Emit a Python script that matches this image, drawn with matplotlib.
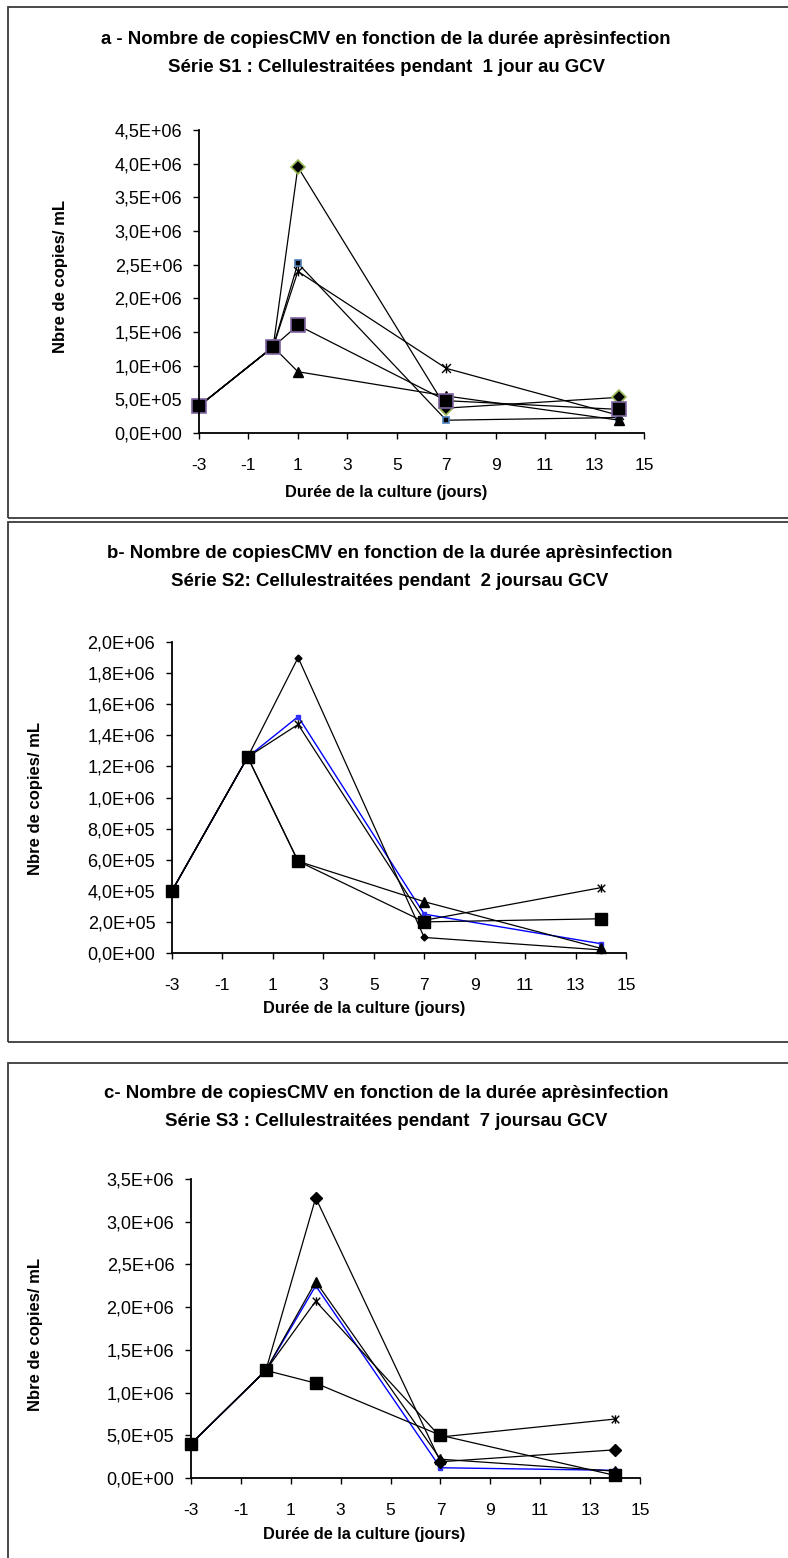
import matplotlib
matplotlib.use("Agg")
import matplotlib.pyplot as plt
from matplotlib.path import Path
from matplotlib.patches import Rectangle
from matplotlib.ticker import FuncFormatter, MultipleLocator

plt.rcParams['font.family'] = ['Liberation Sans', 'DejaVu Sans']
plt.rcParams['axes.unicode_minus'] = False

W, H = 788, 1558

# --- donnees ---
jours_a = [-3, 0, 1, 7, 14]
a_losange = [4.0e5, 1.28e6, 3.95e6, 3.7e5, 5.3e5]
a_bleu = [4.0e5, 1.28e6, 2.52e6, 1.9e5, 2.3e5]
a_etoile = [4.0e5, 1.28e6, 2.40e6, 9.6e5, 2.6e5]
a_triangle = [4.0e5, 1.28e6, 0.91e6, 5.5e5, 1.9e5]
a_carre = [4.0e5, 1.28e6, 1.60e6, 4.8e5, 3.5e5]

jours_bc = [-3, 0, 2, 7, 14]
b_losange = [4.0e5, 1.26e6, 1.90e6, 1.0e5, 2.0e4]
b_bleu = [4.0e5, 1.26e6, 1.52e6, 2.5e5, 6.0e4]
b_etoile = [4.0e5, 1.26e6, 1.47e6, 2.1e5, 4.2e5]
b_triangle = [4.0e5, 1.26e6, 5.9e5, 3.3e5, 3.0e4]
b_carre = [4.0e5, 1.26e6, 5.9e5, 2.0e5, 2.2e5]

c_losange = [4.0e5, 1.26e6, 3.28e6, 1.9e5, 3.3e5]
c_bleu = [4.0e5, 1.26e6, 2.25e6, 1.2e5, 9.0e4]
c_triangle = [4.0e5, 1.26e6, 2.30e6, 2.2e5, 8.0e4]
c_etoile = [4.0e5, 1.26e6, 2.07e6, 4.8e5, 6.9e5]
c_carre = [4.0e5, 1.26e6, 1.11e6, 5.0e5, 3.0e4]

xticks = [-3, -1, 1, 3, 5, 7, 9, 11, 13, 15]

titres = [
    ("a - Nombre de copiesCMV en fonction de la durée aprèsinfection",
     "Série S1 : Cellulestraitées pendant  1 jour au GCV"),
    ("b- Nombre de copiesCMV en fonction de la durée aprèsinfection",
     "Série S2: Cellulestraitées pendant  2 joursau GCV"),
    ("c- Nombre de copiesCMV en fonction de la durée aprèsinfection",
     "Série S3 : Cellulestraitées pendant  7 joursau GCV"),
]
ylabel = "Nbre de copies/ mL"
xlabel = "Durée de la culture (jours)"

# asterisque facon Excel (X + trait vertical)
M, L = Path.MOVETO, Path.LINETO
etoile = Path([(-1, -1), (1, 1), (-1, 1), (1, -1), (0, -1.1), (0, 1.1)],
              [M, L, M, L, M, L])

fig = plt.figure(figsize=(W / 100, H / 100), dpi=100)

def fx(x):
    return x / W

def fy(y):
    return 1 - y / H

# cadres
for top, bot in [(7, 518), (522, 1042), (1063, 1575)]:
    fig.patches.append(Rectangle((fx(7.5), fy(bot)), fx(800) - fx(7.5), fy(top) - fy(bot),
                                 transform=fig.transFigure, fill=False,
                                 edgecolor='#3a3a3a', lw=1.3))

sci = FuncFormatter(lambda v, p: f"{v:.1E}".replace('.', ','))

def make_axes(left, right, top, bottom, ymax, ystep):
    ax = fig.add_axes([fx(left), fy(bottom), fx(right) - fx(left), fy(top) - fy(bottom)])
    ax.set_xlim(-3, 15)
    ax.set_ylim(0, ymax)
    ax.set_xticks(xticks)
    ax.yaxis.set_major_locator(MultipleLocator(ystep))
    ax.yaxis.set_major_formatter(sci)
    for s in ['top', 'right']:
        ax.spines[s].set_visible(False)
    for s in ['left', 'bottom']:
        ax.spines[s].set_linewidth(1.3)
    ax.tick_params(axis='y', direction='out', length=4, width=1, labelsize=13, pad=8)
    ax.tick_params(axis='x', direction='out', length=4, width=1, labelsize=12.5, pad=14)
    ax.patch.set_alpha(0)
    return ax

kw = dict(color='black', lw=0.9, clip_on=False)

# ---- panneau a ----
ax = make_axes(199, 644, 130, 433, 4.5e6, 5e5)
ax.plot(jours_a, a_bleu, marker='s', ms=4, mfc='black', mec='#4F81BD', mew=1.2, **kw)
ax.plot(jours_a, a_etoile, marker=etoile, ms=7, mec='black', mew=1, **kw)
ax.plot(jours_a, a_triangle, marker='^', ms=7, mfc='black', mec='black', **kw)
ax.plot(jours_a, a_losange, marker='D', ms=7, mfc='black', mec='#9BBB59', mew=1.2, **kw)
ax.plot(jours_a, a_carre, marker='s', ms=9.5, mfc='black', mec='#8064A2', mew=1.2, **kw)

# ---- panneau b ----
ax = make_axes(172, 626, 642, 953, 2.0e6, 2e5)
ax.plot(jours_bc, b_bleu, marker='s', ms=3, mfc='#3030ff', mec='#3030ff',
        color='#0000ff', lw=1.0, clip_on=False)
ax.plot(jours_bc, b_losange, marker='D', ms=3.5, mfc='black', mec='black', **kw)
ax.plot(jours_bc, b_etoile, marker=etoile, ms=6, mec='black', mew=1, **kw)
ax.plot(jours_bc, b_triangle, marker='^', ms=7, mfc='black', mec='black', **kw)
ax.plot(jours_bc, b_carre, marker='s', ms=8.5, mfc='black', mec='black', **kw)

# ---- panneau c ----
ax = make_axes(191, 640, 1179, 1478, 3.5e6, 5e5)
ax.plot(jours_bc, c_bleu, marker='s', ms=3, mfc='#3030ff', mec='#3030ff',
        color='#0000ff', lw=1.0, clip_on=False)
ax.plot(jours_bc, c_losange, marker='D', ms=6, mfc='black', mec='black', **kw)
ax.plot(jours_bc, c_etoile, marker=etoile, ms=6, mec='black', mew=1, **kw)
ax.plot(jours_bc, c_triangle, marker='^', ms=7, mfc='black', mec='black', **kw)
ax.plot(jours_bc, c_carre, marker='s', ms=8.5, mfc='black', mec='black', **kw)

# textes
pos_titres = [(386, 40, 67), (390, 554, 581), (386, 1094, 1121)]
for (l1, l2), (cx, y1, y2) in zip(titres, pos_titres):
    fig.text(fx(cx), fy(y1), l1, ha='center', va='center', fontsize=13.4, fontweight='bold')
    fig.text(fx(cx), fy(y2), l2, ha='center', va='center', fontsize=13.4, fontweight='bold')

for x, y in [(60, 276), (36, 798), (36, 1334)]:
    fig.text(fx(x), fy(y), ylabel, rotation=90, ha='center', va='center',
             fontsize=12, fontweight='bold')

for x, y in [(386, 492), (364, 1008), (364, 1534)]:
    fig.text(fx(x), fy(y), xlabel, ha='center', va='center', fontsize=11.8, fontweight='bold')

fig.savefig("out.png", dpi=100)
